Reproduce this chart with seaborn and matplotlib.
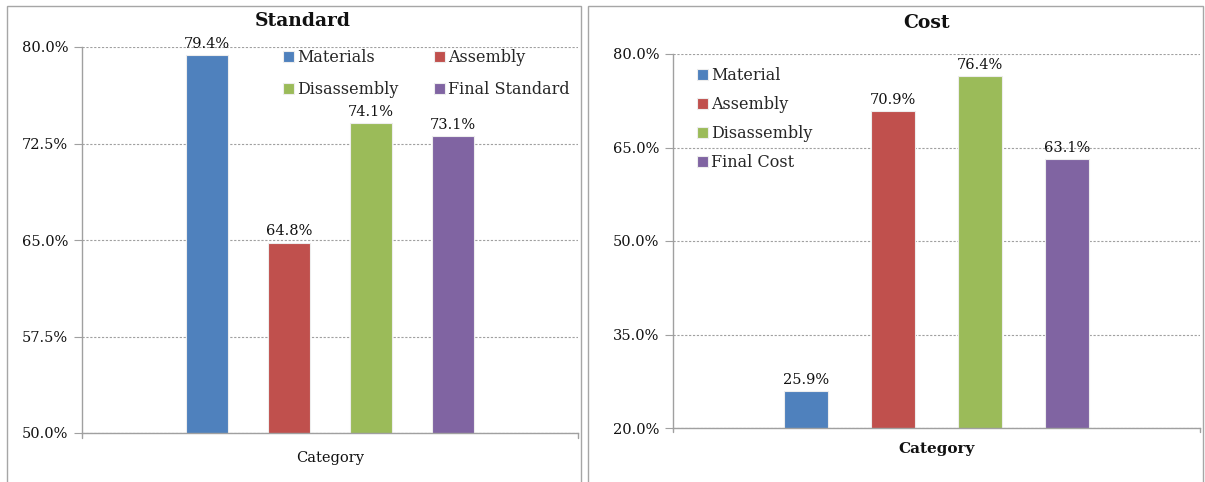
import matplotlib
matplotlib.use("Agg")
import matplotlib.pyplot as plt
from matplotlib.patches import Rectangle
from matplotlib.ticker import FuncFormatter, FixedLocator
import seaborn as sns
import pandas as pd

# Scores per category (percent)
category = "Category"
standard_series = ["Materials", "Assembly", "Disassembly", "Final Standard"]
standard_values = [79.4, 64.8, 74.1, 73.1]
standard_ticks = [50.0, 57.5, 65.0, 72.5, 80.0]

cost_series = ["Material", "Assembly", "Disassembly", "Final Cost"]
cost_values = [25.9, 70.9, 76.4, 63.1]
cost_ticks = [20.0, 35.0, 50.0, 65.0, 80.0]

colors = ["#4F81BD", "#C0504D", "#9BBB59", "#8064A2"]

sns.set_theme(style="white")
plt.rcParams["font.family"] = ["DejaVu Serif"]

W, H = 1205, 482
fig = plt.figure(figsize=(W / 100, H / 100), dpi=100)
fig.patch.set_facecolor("white")


def px_axes(x0, x1, ytop, ybot):
    return fig.add_axes([x0 / W, (H - ybot) / H, (x1 - x0) / W, (ybot - ytop) / H])


# Panel frames
for x0, x1 in [(7, 581), (588, 1203)]:
    fig.patches.append(Rectangle((x0 / W, -0.05), (x1 - x0) / W, (H - 6) / H + 0.05,
                                 transform=fig.transFigure, fill=False,
                                 edgecolor="#A6A6A6", linewidth=1.0))


def draw_panel(ax, series, values, ticks, legend_kw, cat_bold, cat_pad, row_major=False):
    df = pd.DataFrame({"cat": [category] * len(series), "series": series, "val": values})
    sns.barplot(data=df, x="cat", y="val", hue="series", hue_order=series,
                palette=colors, width=0.66, gap=0.49, ax=ax,
                edgecolor="#EDEDED", linewidth=0.8, saturation=1)
    ax.set_ylim(ticks[0], ticks[-1])
    ax.set_xlim(-0.5, 0.5)
    ax.yaxis.set_major_locator(FixedLocator(ticks))
    ax.yaxis.set_major_formatter(FuncFormatter(lambda v, p: f"{v:.1f}%"))
    ax.grid(axis="y", color="#A0A0A0", linestyle=(0, (2, 1.5)), linewidth=0.8)
    ax.set_axisbelow(True)
    for s in ["top", "right"]:
        ax.spines[s].set_visible(False)
    for s in ["left", "bottom"]:
        ax.spines[s].set_color("#A0A0A0")
        ax.spines[s].set_linewidth(1.0)
    ax.tick_params(axis="y", which="major", left=True, length=6, width=0.8,
                   color="#A0A0A0", labelsize=10.5, labelcolor="#111111", pad=4)
    ax.tick_params(axis="x", length=0, pad=cat_pad, labelsize=11 if cat_bold else 10.5,
                   labelcolor="#111111")
    for t in ax.get_xticklabels():
        t.set_fontweight("bold" if cat_bold else "normal")
    ax.set_xlabel("")
    ax.set_ylabel("")
    # small end ticks on the category axis
    for xe in (0.0, 1.0):
        ax.plot([xe, xe], [0, -0.012], transform=ax.transAxes, color="#A0A0A0",
                linewidth=1.0, clip_on=False)
    for cont, v in zip(ax.containers, values):
        ax.bar_label(cont, labels=[f"{v:.1f}%"], padding=3, fontsize=10.5, color="#111111")
    handles, labels = ax.get_legend_handles_labels()
    if row_major:
        # two columns filled row by row
        order = [0, 2, 1, 3]
        handles = [handles[i] for i in order]
        labels = [labels[i] for i in order]
    ax.legend(handles, labels, frameon=False, handlelength=0.7, handleheight=0.7,
              handletextpad=0.2, borderpad=0, borderaxespad=0, fontsize=11.5,
              loc="upper left", **legend_kw)


ax1 = px_axes(82, 578, 47, 433)
draw_panel(ax1, standard_series, standard_values, standard_ticks,
           dict(ncol=2, bbox_to_anchor=(0.405, 0.995), labelspacing=0.95, columnspacing=2.2),
           cat_bold=False, cat_pad=13, row_major=True)

ax2 = px_axes(673, 1200, 54, 428)
draw_panel(ax2, cost_series, cost_values, cost_ticks,
           dict(ncol=1, bbox_to_anchor=(0.045, 0.965), labelspacing=0.75),
           cat_bold=True, cat_pad=10)

fig.text(303 / W, 1 - 21 / H, "Standard", ha="center", va="center",
         fontsize=13.5, fontweight="bold", color="#111111")
fig.text(927 / W, 1 - 23 / H, "Cost", ha="center", va="center",
         fontsize=13.5, fontweight="bold", color="#111111")

fig.savefig("out.png", dpi=100, facecolor="white")
